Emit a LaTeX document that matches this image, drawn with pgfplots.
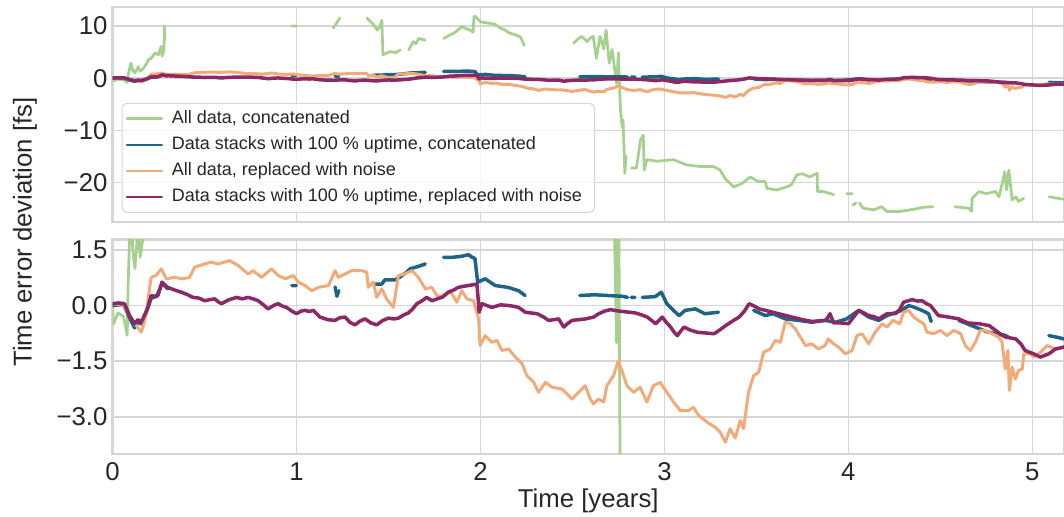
\documentclass[border=0pt]{standalone}
\usepackage{fontspec}
\setmainfont{Liberation Sans}
\usepackage{pgfplots}
\usepackage{pgfplotstable}
\pgfplotsset{compat=1.18}

\definecolor{cgreen}{RGB}{166,208,141}
\definecolor{cblue}{RGB}{30,100,135}
\definecolor{corange}{RGB}{242,170,120}
\definecolor{cpurple}{RGB}{140,40,100}
\definecolor{gridgray}{RGB}{214,214,214}
\definecolor{labelgray}{RGB}{38,38,38}

% All data, concatenated
\pgfplotstableread{
x y
0.000 0.0
0.005 -0.5
0.030 -0.2
0.060 -0.3
0.080 -0.8
0.085 0.6
0.100 2.9
0.110 1.5
0.122 1.0
0.140 2.2
0.150 1.3
0.168 1.9
0.185 2.8
0.195 3.5
0.210 3.8
0.231 4.8
0.250 4.5
0.264 6.1
0.270 4.2
0.280 5.4
0.282 10.0
0.284 7.3
nan nan
0.975 10.0
1.000 10.0
nan nan
1.200 9.6
1.235 11.5
nan nan
1.383 11.5
1.400 10.9
1.420 10.2
1.440 9.2
1.455 10.0
1.464 11.1
1.470 4.5
1.490 4.8
1.508 5.1
1.540 4.9
1.564 5.4
nan nan
1.610 5.4
1.635 7.0
1.650 6.6
1.664 7.6
1.700 7.3
nan nan
1.800 7.6
1.830 8.2
1.855 8.6
1.880 9.3
1.900 9.9
1.920 9.5
1.945 9.2
1.960 8.8
1.965 11.8
1.973 11.8
2.000 10.8
2.050 10.5
2.080 10.3
2.108 9.6
2.130 9.3
2.160 8.6
2.190 8.3
2.217 7.9
2.238 6.3
nan nan
2.506 6.7
2.530 7.5
2.550 8.0
2.580 7.0
2.600 7.8
2.613 8.0
2.630 3.8
2.650 8.0
2.670 5.6
2.683 9.2
2.700 2.9
2.715 5.5
2.740 -1.0
2.750 4.9
2.760 -5.4
2.770 -9.3
2.775 -8.0
2.785 -18.2
2.792 -15.0
nan nan
2.820 -17.2
2.848 -17.2
2.870 -11.8
2.885 -10.9
2.890 -17.6
2.905 -15.6
2.960 -15.9
3.050 -15.6
3.120 -16.6
3.195 -16.9
3.267 -16.9
3.303 -17.6
3.330 -19.2
3.376 -20.8
3.420 -20.2
3.467 -18.9
3.510 -19.8
3.548 -19.8
3.557 -21.1
3.610 -21.4
3.666 -20.8
3.690 -20.4
3.720 -18.5
3.750 -18.3
3.790 -18.9
3.830 -18.2
3.832 -21.7
3.866 -21.7
3.920 -22.3
nan nan
3.990 -22.1
4.020 -22.1
nan nan
4.025 -24.3
4.040 -23.9
nan nan
4.060 -23.9
4.080 -24.9
4.140 -25.2
4.180 -24.6
4.210 -25.5
4.280 -25.5
4.355 -25.1
4.410 -24.7
4.460 -24.6
nan nan
4.580 -24.6
4.655 -24.9
4.670 -25.5
4.672 -23.0
4.710 -21.7
4.750 -22.1
4.800 -21.7
4.818 -22.7
4.836 -20.2
4.850 -17.9
4.860 -21.4
4.872 -17.6
4.890 -23.3
4.910 -22.7
4.925 -23.6
4.953 -23.0
nan nan
5.090 -22.7
5.172 -23.2
}\tgreen

% Data stacks with 100 % uptime, concatenated
\pgfplotstableread{
x y
0.000 0.00
0.060 0.03
0.090 -0.30
0.120 -0.60
0.140 -0.45
0.160 -0.50
0.190 -0.10
0.210 0.20
0.240 0.25
0.270 0.60
0.300 0.45
nan nan
0.975 0.54
1.000 0.54
nan nan
1.210 0.50
1.220 0.25
1.230 0.40
nan nan
1.418 0.58
1.464 0.58
1.480 0.69
1.535 0.69
1.560 0.76
1.600 0.90
1.617 0.99
1.660 1.05
1.700 1.12
nan nan
1.800 1.30
1.850 1.30
1.900 1.33
1.935 1.37
1.955 1.30
1.970 1.27
1.985 0.63
2.026 0.72
2.080 0.54
2.150 0.49
2.207 0.40
2.243 0.27
nan nan
2.540 0.27
2.620 0.29
2.695 0.27
2.770 0.25
2.800 0.22
nan nan
2.820 0.22
2.840 0.22
nan nan
2.880 0.22
2.950 0.24
2.983 0.36
3.013 0.05
3.060 -0.18
3.080 -0.27
3.113 -0.13
3.168 -0.09
3.220 -0.22
3.294 -0.18
nan nan
3.485 -0.13
3.548 -0.27
3.590 -0.22
3.657 -0.36
3.730 -0.40
3.800 -0.45
3.873 -0.40
3.930 -0.45
3.990 -0.36
4.056 -0.13
4.110 -0.31
4.165 -0.40
4.210 -0.27
4.290 -0.13
4.328 0.00
4.360 -0.05
4.400 -0.13
4.436 -0.22
4.450 -0.43
nan nan
4.600 -0.40
4.650 -0.50
4.700 -0.60
4.750 -0.70
4.800 -0.76
4.850 -0.80
4.870 -0.85
nan nan
5.090 -0.81
5.130 -0.85
5.172 -0.90
}\tblue

% All data, replaced with noise
\pgfplotstableread{
x y
0.000 0.05
0.030 0.03
0.056 0.05
0.093 -0.27
0.130 -0.54
0.156 -0.72
0.170 -0.50
0.183 -0.22
0.200 0.40
0.210 0.76
0.237 0.81
0.265 0.99
0.292 0.72
0.337 0.76
0.383 0.72
0.419 0.76
0.446 1.03
0.500 1.12
0.537 1.17
0.573 1.12
0.637 1.21
0.683 1.08
0.737 0.85
0.764 0.94
0.810 0.76
0.865 0.99
0.900 0.81
0.940 0.72
0.983 0.81
1.010 0.63
1.047 0.54
1.083 0.40
1.120 0.49
1.174 0.54
1.210 0.94
1.228 0.76
1.264 0.85
1.300 0.94
1.355 0.94
1.382 0.90
1.390 0.49
1.418 0.63
1.436 0.22
1.464 0.45
1.490 0.18
1.527 -0.05
1.554 0.81
1.590 0.85
1.627 0.94
1.663 0.76
1.700 0.45
1.736 0.49
1.763 0.27
1.800 0.22
1.835 0.40
1.872 0.09
1.899 0.40
1.926 0.18
1.962 0.13
1.990 -0.36
1.998 -1.08
2.026 -0.81
2.062 -0.99
2.090 -0.94
2.116 -1.21
2.153 -1.17
2.190 -1.39
2.226 -1.57
2.253 -1.89
2.290 -2.07
2.316 -2.34
2.353 -2.07
2.390 -2.20
2.444 -2.25
2.497 -2.52
2.533 -2.34
2.570 -2.16
2.597 -2.52
2.615 -2.65
2.642 -2.52
2.670 -2.60
2.687 -2.16
2.723 -1.89
2.750 -1.48
2.772 -1.80
2.796 -2.16
2.832 -2.34
2.868 -2.20
2.905 -2.60
2.940 -2.16
2.977 -2.07
3.014 -2.34
3.050 -2.60
3.086 -2.83
3.131 -2.83
3.158 -2.74
3.186 -2.96
3.231 -3.14
3.276 -3.28
3.303 -3.41
3.331 -3.68
3.357 -3.32
3.385 -3.57
3.412 -3.10
3.430 -3.32
3.457 -2.34
3.485 -1.89
3.512 -1.80
3.539 -1.26
3.575 -1.17
3.603 -0.94
3.630 -0.99
3.657 -0.45
3.685 -0.49
3.712 -0.63
3.767 -1.08
3.800 -1.03
3.837 -1.17
3.873 -1.08
3.890 -0.90
3.920 -1.03
3.946 -1.12
3.983 -1.30
4.020 -1.21
4.047 -0.81
4.074 -0.76
4.110 -1.03
4.146 -0.72
4.183 -0.49
4.210 -0.58
4.243 -0.40
4.280 -0.49
4.300 -0.18
4.328 -0.13
4.355 -0.31
4.380 -0.40
4.410 -0.49
4.427 -0.72
4.463 -0.76
4.500 -0.67
4.536 -0.81
4.572 -0.67
4.610 -0.76
4.636 -1.08
4.663 -1.21
4.690 -0.99
4.717 -0.67
4.745 -0.67
4.780 -0.76
4.817 -0.85
4.835 -0.99
4.853 -1.71
4.867 -1.21
4.875 -2.29
4.890 -1.66
4.908 -1.98
4.925 -1.75
4.945 -1.71
4.953 -1.30
4.990 -1.30
5.007 -1.39
5.044 -1.26
5.080 -1.08
5.126 -1.17
5.172 -1.12
}\torange

% Data stacks with 100 % uptime, replaced with noise
\pgfplotstableread{
x y
0.000 0.05
0.035 0.07
0.065 0.05
0.093 -0.27
0.120 -0.49
0.138 -0.38
0.156 -0.45
0.175 -0.25
0.192 -0.05
0.210 0.27
0.230 0.25
0.247 0.27
0.269 0.63
0.285 0.55
0.300 0.49
0.337 0.42
0.374 0.36
0.405 0.30
0.437 0.22
0.470 0.20
0.501 0.13
0.530 0.16
0.556 0.18
0.575 0.10
0.592 0.05
0.630 0.15
0.674 0.22
0.705 0.18
0.737 0.22
0.765 0.18
0.792 0.13
0.820 0.02
0.846 -0.09
0.875 0.00
0.900 0.05
0.925 -0.02
0.946 -0.05
0.975 -0.15
1.000 -0.22
1.025 -0.15
1.046 -0.13
1.070 -0.16
1.091 -0.13
1.110 -0.22
1.127 -0.31
1.170 -0.38
1.209 -0.40
1.235 -0.33
1.264 -0.31
1.290 -0.45
1.318 -0.52
1.345 -0.42
1.373 -0.36
1.405 -0.47
1.436 -0.52
1.470 -0.40
1.500 -0.34
1.530 -0.36
1.554 -0.34
1.580 -0.26
1.608 -0.20
1.630 -0.10
1.654 0.05
1.680 0.12
1.708 0.22
1.736 0.13
1.765 0.18
1.790 0.22
1.826 0.36
1.855 0.42
1.880 0.49
1.910 0.52
1.935 0.54
1.960 0.56
1.981 0.58
1.993 -0.18
2.008 0.05
2.035 0.00
2.062 -0.05
2.110 0.02
2.153 0.00
2.180 -0.02
2.207 -0.05
2.244 -0.18
2.275 -0.20
2.308 -0.22
2.340 -0.30
2.371 -0.40
2.400 -0.38
2.425 -0.36
2.453 -0.58
2.475 -0.48
2.498 -0.40
2.535 -0.38
2.571 -0.36
2.616 -0.31
2.643 -0.22
2.675 -0.15
2.707 -0.11
2.740 -0.14
2.771 -0.16
2.810 -0.18
2.843 -0.20
2.875 -0.25
2.907 -0.31
2.930 -0.40
2.952 -0.49
2.970 -0.40
2.988 -0.31
3.010 -0.45
3.034 -0.58
3.050 -0.70
3.070 -0.81
3.090 -0.68
3.106 -0.58
3.140 -0.66
3.179 -0.72
3.225 -0.74
3.270 -0.76
3.300 -0.66
3.333 -0.54
3.370 -0.42
3.406 -0.31
3.435 -0.15
3.460 0.05
3.490 -0.02
3.515 -0.09
3.550 -0.13
3.588 -0.18
3.620 -0.22
3.660 -0.27
3.700 -0.32
3.733 -0.36
3.770 -0.40
3.806 -0.43
3.840 -0.41
3.878 -0.40
3.900 -0.22
3.920 -0.47
3.960 -0.47
4.000 -0.49
4.030 -0.30
4.056 -0.13
4.085 -0.20
4.110 -0.27
4.140 -0.30
4.165 -0.36
4.190 -0.28
4.210 -0.22
4.255 -0.22
4.280 -0.10
4.300 0.09
4.346 0.16
4.375 0.12
4.400 0.13
4.425 0.05
4.446 0.00
4.470 -0.15
4.490 -0.27
4.545 -0.31
4.600 -0.36
4.650 -0.47
4.710 -0.49
4.765 -0.54
4.800 -0.67
4.830 -0.78
4.855 -0.85
4.910 -0.90
4.940 -1.05
4.960 -1.21
5.007 -1.30
5.043 -1.39
5.090 -1.30
5.126 -1.17
5.172 -1.12
}\tpurple

\pgfplotsset{
  panel/.style={
    scale only axis, width=380.6pt,
    xmin=0, xmax=5.172,
    xtick={0,1,2,3,4,5},
    grid=major,
    major grid style={draw=gridgray, line width=0.6pt},
    axis line style={draw=gridgray, line width=1pt},
    tick style={draw=none},
    ticklabel style={font=\fontsize{10.3}{12}\selectfont, text=labelgray},
    yticklabel style={xshift=1.5pt},
    unbounded coords=jump,
    /pgf/number format/assume math mode=true,
    every axis plot/.append style={line join=round, line cap=round},
  },
  sgreen/.style={color=cgreen, line width=1.1pt},
  sblue/.style={color=cblue, line width=1.4pt},
  sorange/.style={color=corange, line width=1.2pt},
  spurple/.style={color=cpurple, line width=1.4pt},
}

\begin{document}
\begin{tikzpicture}
% upper panel
\begin{axis}[panel,
    at={(45pt,117.6pt)}, anchor=south west, height=86pt,
    ymin=-27.53, ymax=13.63,
    ytick={-20,-10,0,10}, yticklabels={−20,−10,0,10},
    xticklabels={},
    legend cell align=left,
    legend style={at={(0.0095,0.042)}, anchor=south west,
      draw=gridgray, rounded corners=2pt, fill=white, fill opacity=0.8,
      text opacity=1, text=labelgray, inner sep=1.5pt,
      font=\fontsize{7.2}{8.4}\selectfont, row sep=1.4pt,
      nodes={inner xsep=3.5pt, inner ysep=1.2pt}},
    legend image code/.code={\draw[#1] (0pt,0pt) -- (14pt,0pt);},
    legend image post style={line width=0.9pt},
  ]
\addplot[sgreen] table[x=x, y=y] {\tgreen};
\addlegendentry{All data, concatenated}
\addplot[sblue] table[x=x, y=y] {\tblue};
\addlegendentry{Data stacks with 100 \% uptime, concatenated}
\addplot[sorange] table[x=x, y=y] {\torange};
\addlegendentry{All data, replaced with noise}
\addplot[spurple] table[x=x, y=y] {\tpurple};
\addlegendentry{Data stacks with 100 \% uptime, replaced with noise}
\end{axis}
% lower panel
\begin{axis}[panel,
    at={(45pt,24.8pt)}, anchor=south west, height=85.8pt,
    ymin=-4.0, ymax=1.78,
    ytick={-3,-1.5,0,1.5}, yticklabels={−3.0,−1.5,0.0,1.5},
    xlabel={Time [years]},
    xlabel style={font=\fontsize{10.3}{12}\selectfont, text=labelgray,
      at={(axis description cs:0.5,0)}, anchor=center, yshift=-18.6pt},
  ]
\addplot[sgreen] table[x=x, y=y] {\tgreen};
\addplot[sblue] table[x=x, y=y] {\tblue};
\addplot[sorange] table[x=x, y=y] {\torange};
\addplot[spurple] table[x=x, y=y] {\tpurple};
\end{axis}
\node[rotate=90, font=\fontsize{10.3}{12}\selectfont, text=labelgray]
  at (10pt,113.6pt) {Time error deviation [fs]};
\pgfresetboundingbox
\path (0pt,0pt) rectangle (425.6pt,206.4pt);
\end{tikzpicture}
\end{document}
